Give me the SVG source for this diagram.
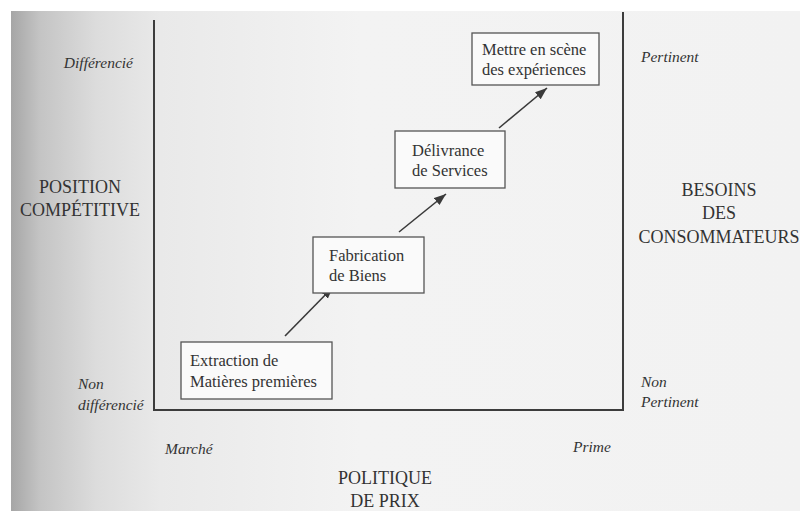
<svg xmlns="http://www.w3.org/2000/svg" width="800" height="511" viewBox="0 0 800 511">
<defs>
<linearGradient id="page" x1="0" y1="0" x2="800" y2="0" gradientUnits="userSpaceOnUse">
<stop offset="0.014" stop-color="#a6a6a6"/>
<stop offset="0.05" stop-color="#c4c4c4"/>
<stop offset="0.12" stop-color="#dcdcdc"/>
<stop offset="0.2" stop-color="#e9e9e9"/>
<stop offset="0.45" stop-color="#f3f3f3"/>
<stop offset="1" stop-color="#f2f2f2"/>
</linearGradient>
<marker id="ah" markerUnits="userSpaceOnUse" markerWidth="13" markerHeight="10" refX="12" refY="4.5" orient="auto">
<path d="M0,0 L12,4.5 L0,9 Z" fill="#3a3a3a"/>
</marker>
<style>
.lab{font-family:"Liberation Serif","DejaVu Serif",serif;fill:#333;}
.it{font-style:italic;font-size:15.5px;}
.cap{font-size:18px;text-anchor:middle;}
.bt{font-size:16.5px;}
.box{fill:#fafafa;stroke:#555;stroke-width:1.3;}
.axis{stroke:#3c3c3c;stroke-width:2;fill:none;}
.arr{stroke:#3a3a3a;stroke-width:1.6;fill:none;marker-end:url(#ah);}
</style>
</defs>
<rect x="0" y="0" width="800" height="511" fill="#ffffff"/>
<rect x="11" y="11" width="789" height="500" fill="url(#page)"/>

<g id="axes">
<polyline class="axis" points="154,20 154,410 623,410 623,12"/>
</g>

<g id="labels">
<text class="lab it" x="133" y="68" text-anchor="end">Différencié</text>
<text class="lab it" x="641" y="62">Pertinent</text>
<text class="lab cap" x="80" y="193">POSITION</text>
<text class="lab cap" x="80" y="216">COMPÉTITIVE</text>
<text class="lab cap" x="719" y="196">BESOINS</text>
<text class="lab cap" x="719" y="219">DES</text>
<text class="lab cap" x="719" y="243">CONSOMMATEURS</text>
<text class="lab it" x="78" y="389">Non</text>
<text class="lab it" x="78" y="410">différencié</text>
<text class="lab it" x="641" y="387">Non</text>
<text class="lab it" x="641" y="407">Pertinent</text>
<text class="lab it" x="165" y="454">Marché</text>
<text class="lab it" x="573" y="452">Prime</text>
<text class="lab cap" x="385" y="484">POLITIQUE</text>
<text class="lab cap" x="385" y="507">DE PRIX</text>
</g>

<g id="connectors">
<line class="arr" x1="285" y1="336" x2="333" y2="287"/>
<line class="arr" x1="399" y1="232" x2="446" y2="194"/>
<line class="arr" x1="499" y1="128" x2="547" y2="88"/>
</g>

<g id="node-extraction">
<rect class="box" x="181" y="342" width="151" height="57"/>
<text class="lab bt" x="190" y="366">Extraction de</text>
<text class="lab bt" x="190" y="387">Matières premières</text>
</g>

<g id="node-fabrication">
<rect class="box" x="313" y="237" width="111" height="56"/>
<text class="lab bt" x="329" y="261">Fabrication</text>
<text class="lab bt" x="329" y="281">de Biens</text>
</g>

<g id="node-delivrance">
<rect class="box" x="395" y="131" width="110" height="57"/>
<text class="lab bt" x="412" y="156">Délivrance</text>
<text class="lab bt" x="412" y="176">de Services</text>
</g>

<g id="node-mettre">
<rect class="box" x="472" y="33" width="127" height="52"/>
<text class="lab bt" x="482" y="55">Mettre en scène</text>
<text class="lab bt" x="482" y="75">des expériences</text>
</g>
</svg>
